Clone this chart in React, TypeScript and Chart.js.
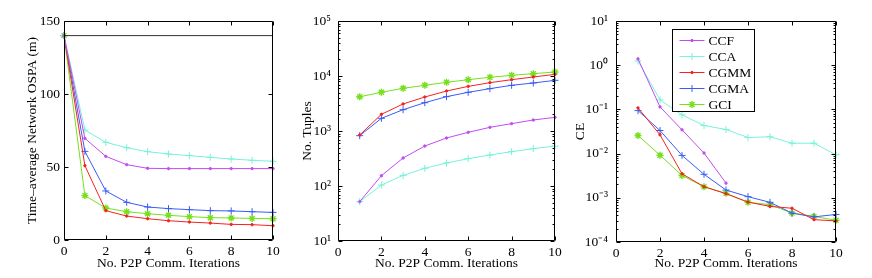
import React, { useEffect, useRef } from 'react';
import { Chart, registerables } from 'chart.js';
import { drawPoint } from 'chart.js/helpers';

Chart.register(...registerables);

// ---------- data ----------
const iterAll = [0, 1, 2, 3, 4, 5, 6, 7, 8, 9, 10];
const iterFrom1 = [1, 2, 3, 4, 5, 6, 7, 8, 9, 10];
const iterCCFce = [1, 2, 3, 4, 5];
const xTicks = [0, 2, 4, 6, 8, 10];

const ospaTicks = [0, 50, 100, 150];
const ospaBaselineX = [0, 10];
const ospaBaseline = [140, 140];
const ospaCCF = [140, 69.6, 57.3, 51.6, 49.1, 48.9, 48.9, 48.9, 48.9, 48.9, 48.9];
const ospaCCA = [140, 75.3, 66.9, 63.2, 60.5, 58.9, 57.8, 56.6, 55.5, 54.6, 53.9];
const ospaCGMM = [140, 50.9, 20.1, 16.4, 14.6, 13.2, 12.3, 11.6, 10.7, 10.5, 9.8];
const ospaCGMA = [140, 60.7, 33.6, 25.8, 22.6, 21.5, 20.8, 20.1, 19.9, 19.4, 18.9];
const ospaGCI = [140, 30.4, 21.9, 19.4, 18.0, 16.9, 16.0, 15.3, 15.1, 14.8, 14.6];

const tuplesTicks = [10, 100, 1000, 10000, 100000];
const tuplesCCF = [52, 154, 323, 533, 746, 946, 1166, 1360, 1585, 1772];
const tuplesCCA = [52, 104, 156, 210, 262, 314, 366, 421, 477, 533];
const tuplesCGMM = [845, 2010, 3100, 4150, 5330, 6480, 7560, 8570, 9590, 10720];
const tuplesCGMA = [822, 1700, 2440, 3270, 4210, 5050, 5890, 6770, 7460, 8340];
const tuplesGCI = [4200, 5050, 5970, 6770, 7670, 8570, 9460, 10280, 11020, 11820];

const ceTicks = [0.0001, 0.001, 0.01, 0.1, 1, 10];
const ceCCF = [1.39, 0.114, 0.0345, 0.0103, 0.00215];
const ceCCA = [1.25, 0.164, 0.0753, 0.0432, 0.0351, 0.0231, 0.024, 0.0172, 0.0172, 0.0094];
const ceCGMM = [0.108, 0.0266, 0.0035, 0.00178, 0.00124, 0.0008, 0.00064, 0.00058, 0.00032, 0.0003];
const ceCGMA = [0.094, 0.0333, 0.0091, 0.0034, 0.0015, 0.00106, 0.00079, 0.00045, 0.00037, 0.00042];
const ceGCI = [0.0257, 0.0092, 0.0032, 0.00178, 0.00126, 0.00079, 0.0007, 0.00045, 0.00038, 0.00031];

const seriesNames = ['CCF', 'CCA', 'CGMM', 'CGMA', 'GCI'];

// ---------- styles ----------
const STYLE: Record<string, { color: string; pointStyle: string; radius: number; pbw: number }> = {
  CCF: { color: '#c04cf2', pointStyle: 'circle', radius: 1.2, pbw: 1 },
  CCA: { color: '#78f2d8', pointStyle: 'cross', radius: 3.5, pbw: 1 },
  CGMM: { color: '#f42222', pointStyle: 'circle', radius: 1.2, pbw: 1 },
  CGMA: { color: '#3a5cf5', pointStyle: 'cross', radius: 3.5, pbw: 1 },
  GCI: { color: '#76e01c', pointStyle: 'star', radius: 3.5, pbw: 1.4 },
};

const FONT = { family: '"Liberation Serif", "Times New Roman", serif', size: 13.5 };

const SUP: Record<string, string> = {
  '0': '\u2070', '1': '\u00B9', '2': '\u00B2', '3': '\u00B3', '4': '\u2074',
  '5': '\u2075', '6': '\u2076', '7': '\u2077', '8': '\u2078', '9': '\u2079', '-': '\u207B',
};
const pow10Label = (v: number) => {
  const e = String(Math.round(Math.log10(v)));
  return '10' + e.split('').map((c) => SUP[c] || c).join('');
};

function series(name: string, xs: number[], ys: number[]) {
  const s = STYLE[name];
  return {
    label: name,
    data: xs.map((x, i) => ({ x, y: ys[i] })),
    borderColor: s.color,
    backgroundColor: s.color,
    borderWidth: 1,
    pointStyle: s.pointStyle,
    pointRadius: s.radius,
    pointBorderWidth: s.pbw,
    pointBorderColor: s.color,
    pointBackgroundColor: s.color,
    tension: 0,
    clip: false as any,
  };
}

// MATLAB-like box with inward ticks
const framePlugin = {
  id: 'matlabFrame',
  afterDatasetsDraw(chart: any) {
    const { ctx, chartArea } = chart;
    const L = Math.round(chartArea.left) + 0.5;
    const R = Math.round(chartArea.right) - 0.5;
    const T = Math.round(chartArea.top) + 0.5;
    const B = Math.round(chartArea.bottom) - 0.5;
    const xs = chart.scales.x;
    const ys = chart.scales.y;
    ctx.save();
    ctx.strokeStyle = '#000';
    ctx.lineWidth = 1;
    ctx.beginPath();
    ctx.rect(L, T, R - L, B - T);
    const major = 4;
    const minor = 2;
    xs.ticks.forEach((t: any) => {
      const p = Math.round(xs.getPixelForValue(t.value)) + 0.5;
      ctx.moveTo(p, B); ctx.lineTo(p, B - major);
      ctx.moveTo(p, T); ctx.lineTo(p, T + major);
    });
    ys.ticks.forEach((t: any) => {
      const p = Math.round(ys.getPixelForValue(t.value)) + 0.5;
      ctx.moveTo(L, p); ctx.lineTo(L + major, p);
      ctx.moveTo(R, p); ctx.lineTo(R - major, p);
    });
    if (ys.type === 'logarithmic') {
      const lo = Math.round(Math.log10(ys.min));
      const hi = Math.round(Math.log10(ys.max));
      for (let e = lo; e < hi; e++) {
        for (let k = 2; k <= 9; k++) {
          const v = k * Math.pow(10, e);
          const p = Math.round(ys.getPixelForValue(v)) + 0.5;
          ctx.moveTo(L, p); ctx.lineTo(L + minor, p);
          ctx.moveTo(R, p); ctx.lineTo(R - minor, p);
        }
      }
    }
    ctx.stroke();
    ctx.restore();
  },
};

const legendPlugin = {
  id: 'insetLegend',
  afterDraw(chart: any) {
    const opts = chart.options.plugins.insetLegend;
    if (!opts || !opts.show) return;
    const { ctx, chartArea } = chart;
    const bx = Math.round(chartArea.left + 56) + 0.5;
    const by = Math.round(chartArea.top + 8) + 0.5;
    const bw = 82;
    const bh = 82;
    ctx.save();
    ctx.fillStyle = '#fff';
    ctx.fillRect(bx, by, bw, bh);
    ctx.strokeStyle = '#000';
    ctx.lineWidth = 1;
    ctx.strokeRect(bx, by, bw, bh);
    chart.data.datasets.forEach((ds: any, i: number) => {
      const y = Math.round(by + 10 + i * 16.1);
      const x0 = bx + 7;
      const x1 = bx + 32;
      ctx.strokeStyle = ds.borderColor;
      ctx.fillStyle = ds.borderColor;
      ctx.lineWidth = 1;
      ctx.beginPath();
      ctx.moveTo(x0, y + 0.5);
      ctx.lineTo(x1, y + 0.5);
      ctx.stroke();
      ctx.lineWidth = ds.pointBorderWidth;
      drawPoint(ctx, { pointStyle: ds.pointStyle, radius: ds.pointRadius, rotation: 0, borderWidth: ds.pointBorderWidth } as any, (x0 + x1) / 2, y + 0.5);
      ctx.fillStyle = '#000';
      ctx.font = `${FONT.size}px ${FONT.family}`;
      ctx.textBaseline = 'middle';
      ctx.textAlign = 'left';
      ctx.fillText(ds.label, bx + 36, y + 1);
    });
    ctx.restore();
  },
};

type PanelCfg = {
  left: number;
  width: number;
  yAxisW: number;
  padRight: number;
  xAxisH: number;
  yTitle: string;
  yTitlePad: number;
  yTickPad: number;
  yLog: boolean;
  yMin: number;
  yMax: number;
  yTicks: number[];
  datasets: any[];
  legend: boolean;
};

function Panel({ cfg }: { cfg: PanelCfg }) {
  const ref = useRef<HTMLCanvasElement | null>(null);
  useEffect(() => {
    if (!ref.current) return;
    const chart = new Chart(ref.current, {
      type: 'line',
      data: { datasets: cfg.datasets },
      plugins: [framePlugin, legendPlugin],
      options: {
        animation: false,
        responsive: false,
        events: [],
        layout: { autoPadding: false, padding: { left: 0, right: cfg.padRight, top: 21, bottom: 0 } },
        plugins: {
          legend: { display: false },
          tooltip: { enabled: false },
          insetLegend: { show: cfg.legend },
        } as any,
        scales: {
          x: {
            type: 'linear',
            min: 0,
            max: 10,
            afterBuildTicks: (s: any) => { s.ticks = xTicks.map((v) => ({ value: v })); },
            afterFit: (s: any) => { s.height = cfg.xAxisH; },
            grid: { display: false, drawTicks: false },
            border: { display: false },
            ticks: { color: '#000', font: FONT, padding: 3, maxRotation: 0, autoSkip: false, callback: (v: any) => String(v) },
            title: { display: true, text: 'No. P2P Comm. Iterations', color: '#000', font: FONT, padding: { top: 0, bottom: 6 } },
          },
          y: {
            type: cfg.yLog ? 'logarithmic' : 'linear',
            min: cfg.yMin,
            max: cfg.yMax,
            afterBuildTicks: (s: any) => { s.ticks = cfg.yTicks.map((v) => ({ value: v })); },
            afterFit: (s: any) => { s.width = cfg.yAxisW; },
            grid: { display: false, drawTicks: false },
            border: { display: false },
            ticks: {
              color: '#000',
              font: FONT,
              padding: cfg.yTickPad,
              autoSkip: false,
              callback: (v: any) => (cfg.yLog ? pow10Label(Number(v)) : String(v)),
            },
            title: { display: true, text: cfg.yTitle, color: '#000', font: FONT, padding: { top: cfg.yTitlePad, bottom: 0 } },
          },
        } as any,
      },
    } as any);
    return () => chart.destroy();
  }, [cfg]);
  return (
    <div style={{ position: 'absolute', left: cfg.left, top: 0, width: cfg.width, height: 278 }}>
      <canvas ref={ref} width={cfg.width} height={278} style={{ display: 'block' }} />
    </div>
  );
}

const baselineDataset = {
  label: 'baseline',
  data: ospaBaselineX.map((x, i) => ({ x, y: ospaBaseline[i] })),
  borderColor: '#333333',
  borderWidth: 1,
  pointRadius: 0,
  tension: 0,
};

const panels: PanelCfg[] = [
  {
    left: 0, width: 290, yAxisW: 64, padRight: 17, xAxisH: 38,
    yTitle: 'Time\u2013average Network OSPA (m)', yTitlePad: 24, yTickPad: 4,
    yLog: false, yMin: 0, yMax: 150, yTicks: ospaTicks, legend: false,
    datasets: [
      baselineDataset,
      series('CCF', iterAll, ospaCCF),
      series('CCA', iterAll, ospaCCA),
      series('CGMM', iterAll, ospaCGMM),
      series('CGMA', iterAll, ospaCGMA),
      series('GCI', iterAll, ospaGCI),
    ],
  },
  {
    left: 290, width: 290, yAxisW: 48, padRight: 25, xAxisH: 37,
    yTitle: 'No. Tuples', yTitlePad: 9, yTickPad: 7,
    yLog: true, yMin: 10, yMax: 100000, yTicks: tuplesTicks, legend: false,
    datasets: [
      series('CCF', iterFrom1, tuplesCCF),
      series('CCA', iterFrom1, tuplesCCA),
      series('CGMM', iterFrom1, tuplesCGMM),
      series('CGMA', iterFrom1, tuplesCGMA),
      series('GCI', iterFrom1, tuplesGCI),
    ],
  },
  {
    left: 570, width: 302, yAxisW: 46, padRight: 36, xAxisH: 36,
    yTitle: 'CE', yTitlePad: 2, yTickPad: 8,
    yLog: true, yMin: 0.0001, yMax: 10, yTicks: ceTicks, legend: true,
    datasets: [
      series(seriesNames[0], iterCCFce, ceCCF),
      series(seriesNames[1], iterFrom1, ceCCA),
      series(seriesNames[2], iterFrom1, ceCGMM),
      series(seriesNames[3], iterFrom1, ceCGMA),
      series(seriesNames[4], iterFrom1, ceGCI),
    ],
  },
];

export default function App() {
  return (
    <div style={{ position: 'fixed', left: 0, top: 0, width: 872, height: 278, background: '#fff', overflow: 'hidden' }}>
      {panels.map((p, i) => (
        <Panel key={i} cfg={p} />
      ))}
    </div>
  );
}
